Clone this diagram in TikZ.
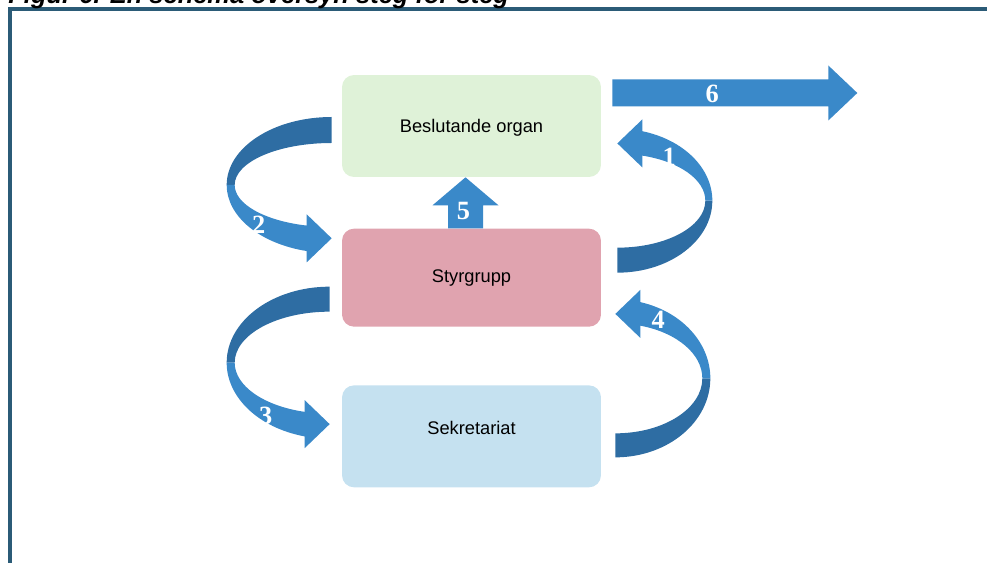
\documentclass[tikz,border=0pt]{standalone}
\usepackage{fontspec}
\setmainfont{Liberation Serif}
\setsansfont{Liberation Sans}
\usepackage{tikz}
\usetikzlibrary{
  positioning,
  calc
}
\definecolor{frameBlue}{HTML}{2B5B77}
\definecolor{boxGreen}{HTML}{DFF2D8}
\definecolor{boxPink}{HTML}{E0A3AF}
\definecolor{boxBlue}{HTML}{C5E1F0}
\definecolor{arrowLight}{HTML}{3A89C9}
\definecolor{arrowDark}{HTML}{2E6DA3}
\tikzstyle{box}=[rounded corners=0.24cm, inner sep=0pt, minimum width=5.18cm, font=\sffamily\fontsize{10.4}{12}\selectfont]
\tikzstyle{num}=[text=white, inner sep=0pt, font=\rmfamily\bfseries\fontsize{15}{15}\selectfont]

\begin{document}
\begin{tikzpicture}[x=0.02cm, y=-0.02cm]
  \useasboundingbox (0,0) rectangle (987,563);

  % loop arrow: center, rotation, outer rx, outer ry, inner rx, inner ry
  \def\loopArrow#1#2#3#4#5#6{%
    \begin{scope}[shift={(#1)}, rotate=#2]
      \pgfmathsetmacro\ao{acos(-25/#3)}
      \pgfmathsetmacro\ai{acos(-25/#5)}
      \pgfmathsetmacro\ym{(#4*sin(\ao)+#6*sin(\ai))/2}
      \pgfmathsetmacro\yi{#6*sin(\ai)}
      % back side
      \fill[arrowDark] (0,-#4) arc[start angle=270, end angle=180, x radius=#3, y radius=#4]
        -- (-#5,0) arc[start angle=180, end angle=270, x radius=#5, y radius=#6] -- cycle;
      % front side with head
      \fill[arrowLight] (-#3,0) arc[start angle=180, end angle=\ao, x radius=#3, y radius=#4]
        -- (-25,{\ym+24}) -- (0,\ym) -- (-25,{\ym-24}) -- (-25,\yi)
        arc[start angle=\ai, end angle=180, x radius=#5, y radius=#6] -- cycle;
    \end{scope}}

  % Rahmen und Titel
  \draw[frameBlue, line width=0.07cm] (10,600) -- (10,9) -- (1000,9);
  \node[anchor=base west, inner sep=0pt, font=\sffamily\bfseries\itshape\fontsize{14.5}{14.5}\selectfont] (title) at (8,4)
    {Figur 6. En schema översyn steg för steg};

  % Boxen
  \node[box, fill=boxGreen, minimum height=2.04cm, text depth=0pt] (besl) at (471.5,126) {Beslutande organ};
  \node[box, fill=boxPink, minimum height=1.96cm, below=1.02cm of besl] (styr) {Styrgrupp};
  \node[box, fill=boxBlue, minimum height=2.04cm, text depth=10pt, below=1.16cm of styr] (sekr) {Sekretariat};

  % Mittelpunkte der Bogenpfeile
  \coordinate (c1) at ($(styr.east)+(16,-77)$);
  \coordinate (c2) at ($(besl.west)+(-10,59)$);
  \coordinate (c3) at ($(styr.west)+(-12,85)$);
  \coordinate (c4) at ($(sekr.east)+(14,-58)$);

  \loopArrow{c2}{0}{105}{68}{97}{42}
  \loopArrow{c3}{0}{103}{76}{95}{51}
  \loopArrow{c1}{180}{95}{72}{88}{47}
  \loopArrow{c4}{180}{95}{79}{87}{55}

  % Pfeil 5
  \coordinate (a5) at ($(styr.north)+(-6,0)$);
  \fill[arrowLight] ($(a5)+(-17.5,0)$) -- ++(0,-23) -- ++(-15.5,0) -- ($(a5)+(0,-51)$)
    -- ($(a5)+(33,-23)$) -- ++(-15.5,0) -- ($(a5)+(17.5,0)$) -- cycle;

  % Pfeil 6
  \coordinate (a6) at ($(besl.east)+(11,-33)$);
  \fill[arrowLight] ($(a6)+(0,-13.5)$) -- ++(216,0) -- ++(0,-14) -- ($(a6)+(245,0)$)
    -- ($(a6)+(216,27.5)$) -- ++(0,-14) -- ($(a6)+(0,13.5)$) -- cycle;

  % Nummern
  \node[num] (n1) at ($(c1)+(52,-44)$) {1};
  \node[num] (n2) at ($(c2)+(-73,40)$) {2};
  \node[num] (n3) at ($(c3)+(-64,53)$) {3};
  \node[num] (n4) at ($(c4)+(43,-59)$) {4};
  \node[num] (n5) at ($(a5)+(-2,-17)$) {5};
  \node[num] (n6) at ($(a6)+(100,1)$) {6};
\end{tikzpicture}
\end{document}
